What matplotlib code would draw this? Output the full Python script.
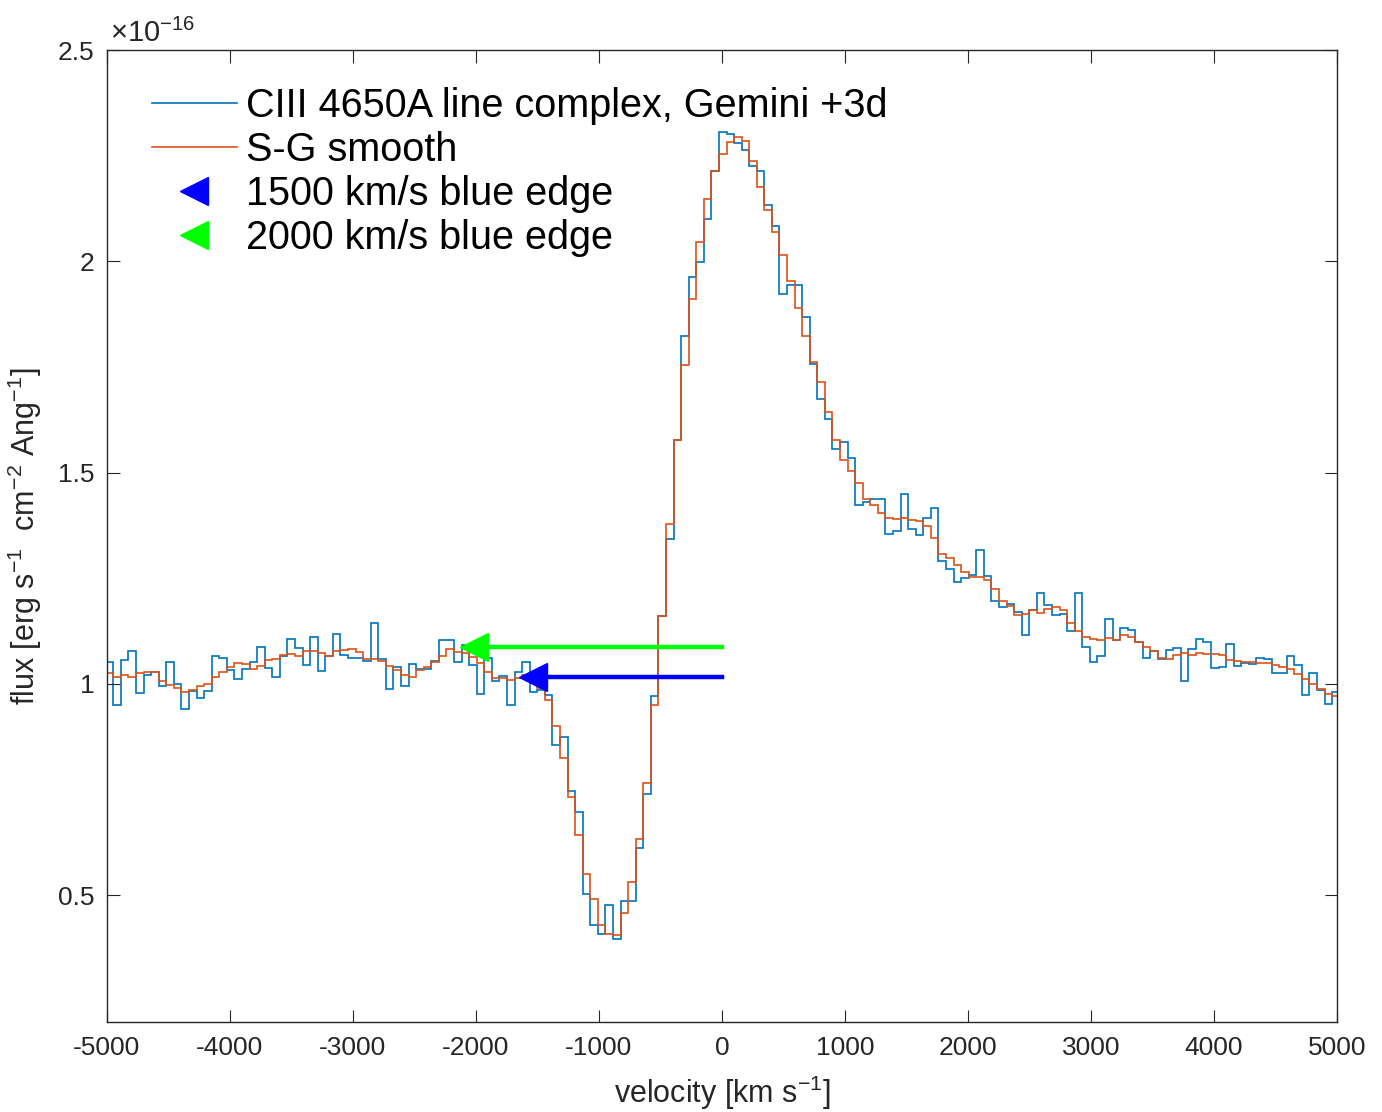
import numpy as np
import matplotlib
matplotlib.use("Agg")
import matplotlib.pyplot as plt

# spectrum bins (km/s): first left edge and constant bin width
v_start = -5010.5
bin_width = 61.55

# observed flux (1e-16 erg/s/cm2/Ang), one value per bin
flux_raw = [
    1.051, 0.951, 1.057, 1.077, 0.979, 1.022, 1.028, 0.995, 1.052, 1.000,
    0.940, 0.984, 0.967, 0.984, 1.067, 1.061, 1.033, 1.012, 1.036, 1.051,
    1.088, 1.038, 1.017, 1.066, 1.107, 1.084, 1.044, 1.112, 1.030, 1.066,
    1.118, 1.069, 1.061, 1.061, 1.055, 1.144, 1.059, 0.988, 1.041, 0.996,
    1.047, 1.036, 1.036, 1.055, 1.103, 1.103, 1.052, 1.092, 1.045, 0.976,
    1.062, 1.006, 1.019, 0.950, 1.029, 1.052, 0.980, 0.986, 0.974, 0.856,
    0.874, 0.746, 0.697, 0.502, 0.429, 0.409, 0.476, 0.396, 0.487, 0.487,
    0.611, 0.739, 0.972, 1.160, 1.343, 1.578, 1.823, 1.964, 1.998, 2.100,
    2.214, 2.307, 2.301, 2.279, 2.263, 2.226, 2.214, 2.133, 2.084, 1.922,
    1.944, 1.944, 1.868, 1.758, 1.673, 1.628, 1.557, 1.572, 1.535, 1.424,
    1.430, 1.438, 1.438, 1.355, 1.361, 1.449, 1.367, 1.353, 1.393, 1.416,
    1.290, 1.272, 1.241, 1.250, 1.258, 1.318, 1.256, 1.197, 1.182, 1.189,
    1.170, 1.116, 1.174, 1.215, 1.187, 1.164, 1.165, 1.126, 1.216, 1.088,
    1.051, 1.067, 1.153, 1.103, 1.133, 1.128, 1.098, 1.062, 1.078, 1.058,
    1.081, 1.085, 1.007, 1.082, 1.107, 1.098, 1.037, 1.041, 1.094, 1.043,
    1.050, 1.047, 1.061, 1.058, 1.025, 1.027, 1.065, 1.045, 0.974, 1.027,
    0.986, 0.952, 0.982,
]

# Savitzky-Golay smoothed flux
flux_smooth = [
    1.025, 1.017, 1.021, 1.016, 1.027, 1.028, 1.028, 1.008, 0.998, 0.991,
    0.981, 0.986, 0.994, 1.000, 1.017, 1.029, 1.041, 1.050, 1.047, 1.035,
    1.043, 1.057, 1.060, 1.069, 1.070, 1.067, 1.078, 1.077, 1.073, 1.066,
    1.077, 1.081, 1.083, 1.075, 1.058, 1.058, 1.055, 1.043, 1.033, 1.021,
    1.016, 1.033, 1.039, 1.053, 1.065, 1.082, 1.075, 1.073, 1.063, 1.049,
    1.029, 1.013, 1.013, 1.009, 1.013, 1.021, 1.006, 0.990, 0.962, 0.900,
    0.824, 0.733, 0.642, 0.551, 0.491, 0.429, 0.409, 0.405, 0.457, 0.532,
    0.632, 0.765, 0.950, 1.160, 1.379, 1.578, 1.754, 1.910, 2.046, 2.147,
    2.214, 2.254, 2.283, 2.295, 2.285, 2.238, 2.175, 2.122, 2.070, 2.015,
    1.953, 1.889, 1.823, 1.762, 1.714, 1.644, 1.578, 1.531, 1.503, 1.476,
    1.438, 1.423, 1.404, 1.393, 1.390, 1.393, 1.387, 1.385, 1.374, 1.345,
    1.308, 1.298, 1.282, 1.265, 1.254, 1.254, 1.246, 1.224, 1.197, 1.185,
    1.164, 1.165, 1.174, 1.167, 1.177, 1.182, 1.175, 1.145, 1.126, 1.112,
    1.107, 1.104, 1.108, 1.103, 1.116, 1.112, 1.098, 1.088, 1.077, 1.062,
    1.058, 1.069, 1.074, 1.069, 1.073, 1.070, 1.070, 1.069, 1.057, 1.055,
    1.053, 1.051, 1.049, 1.049, 1.045, 1.041, 1.036, 1.023, 1.012, 1.000,
    0.987, 0.976, 0.972,
]

# blue-edge markers: velocity (km/s) and flux level
edge_1500 = (-1540, 1.017)
edge_2000 = (-2020, 1.087)

x_ticks = [-5000, -4000, -3000, -2000, -1000, 0, 1000, 2000, 3000, 4000, 5000]
y_ticks = [0.5, 1.0, 1.5, 2.0, 2.5]
y_tick_labels = ["0.5", "1", "1.5", "2", "2.5"]

plt.rcParams['font.family'] = ['Liberation Sans', 'DejaVu Sans']
plt.rcParams['mathtext.fontset'] = 'custom'
plt.rcParams['mathtext.rm'] = 'Liberation Sans'
plt.rcParams['mathtext.it'] = 'Liberation Sans:italic'

axis_grey = '#262626'

fig = plt.figure(figsize=(13.82, 11.12), dpi=100)
ax = fig.add_axes([107 / 1382, 90 / 1112, 1230 / 1382, 972 / 1112])

edges = v_start + bin_width * np.arange(len(flux_raw) + 1)
ax.stairs(flux_raw, edges, baseline=None, color='#0072BD', linewidth=1.2,
          label='CIII 4650A line complex, Gemini +3d')
ax.stairs(flux_smooth, edges, baseline=None, color='#D95319', linewidth=1.2,
          label='S-G smooth')

# arrows: thick line back to zero velocity with a triangle head
ax.plot([edge_1500[0], 0], [edge_1500[1]] * 2, color='#0000FF', linewidth=3.2)
ax.plot(edge_1500[0], edge_1500[1], linestyle='none', marker='<', markersize=20,
        color='#0000FF', label='1500 km/s blue edge')
ax.plot([edge_2000[0], 0], [edge_2000[1]] * 2, color='#00FF00', linewidth=3.2)
ax.plot(edge_2000[0], edge_2000[1], linestyle='none', marker='<', markersize=20,
        color='#00FF00', label='2000 km/s blue edge')

ax.set_xlim(-5000, 5000)
ax.set_ylim(0.2, 2.5)
ax.set_xticks(x_ticks)
ax.set_xticklabels([str(t) for t in x_ticks])
ax.set_yticks(y_ticks)
ax.set_yticklabels(y_tick_labels)

ax.tick_params(direction='in', length=9, width=0.8, colors=axis_grey,
               labelsize=19, top=True, right=True)
ax.tick_params(axis='x', pad=10)
ax.tick_params(axis='y', pad=9)
for sp in ax.spines.values():
    sp.set_color(axis_grey)
    sp.set_linewidth(1.0)

ax.set_xlabel('velocity [km s$^{-1}$]', fontsize=22, color=axis_grey, labelpad=10)
ax.set_ylabel('flux [erg s$^{-1}$  cm$^{-2}$ Ang$^{-1}$]', fontsize=22,
              color=axis_grey, labelpad=10)

ax.text(0.0024, 1.008, r'$\times10^{-16}$', transform=ax.transAxes, fontsize=21,
        color=axis_grey, ha='left', va='baseline')

ax.legend(loc='upper left', bbox_to_anchor=(0.0236, 0.978), frameon=False,
          fontsize=28.5, handlelength=2.14, handletextpad=0.25, labelspacing=0.15,
          borderaxespad=0.0)

fig.savefig('out.png', dpi=100)
